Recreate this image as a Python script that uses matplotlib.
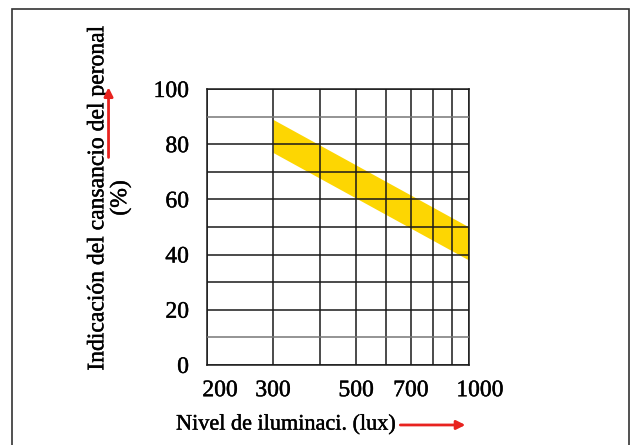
import numpy as np
import matplotlib.pyplot as plt
import matplotlib.patheffects as pe
from matplotlib.patches import Rectangle, FancyArrowPatch
from matplotlib.transforms import ScaledTranslation

plt.rcParams['font.family'] = ['Liberation Serif', 'DejaVu Serif']

# Datos
lux = [300, 1000]
cansancio_sup = [89, 50]
cansancio_inf = [77, 38]

x_ticks = [200, 300, 500, 700, 1000]
x_grid = [200, 300, 400, 500, 600, 700, 800, 900, 1000]
y_ticks = [0, 20, 40, 60, 80, 100]
y_grid = list(range(0, 101, 10))

# trazo algo mas grueso, como en la imagen original
grueso = [pe.withStroke(linewidth=0.3, foreground='black')]

fig = plt.figure(figsize=(6.31, 4.45), dpi=100)
ax = fig.add_axes([0.328, 0.180, 0.415, 0.620])

# banda amarilla (recta en escala logaritmica)
xs = np.geomspace(lux[0], lux[1], 50)
lx = np.log(xs / lux[0]) / np.log(lux[1] / lux[0])
sup = cansancio_sup[0] + (cansancio_sup[1] - cansancio_sup[0]) * lx
inf = cansancio_inf[0] + (cansancio_inf[1] - cansancio_inf[0]) * lx
ax.fill_between(xs, inf, sup, color='#FDD602', lw=0, zorder=1)

ax.set_xscale('log')
ax.set_xlim(200, 1000)
ax.set_ylim(0, 100)

for g in x_grid:
    ax.axvline(g, color='#1a1a1a', lw=1.1, zorder=3)
for g in y_grid:
    c = '#777777' if g in (10, 90) else '#1a1a1a'
    ax.axhline(g, color=c, lw=1.1, zorder=3)

ax.set_xticks(x_ticks)
ax.set_xticklabels([str(t) for t in x_ticks])
ax.xaxis.set_minor_locator(plt.NullLocator())
ax.set_yticks(y_ticks)
ax.tick_params(axis='both', length=0, labelsize=17)
ax.tick_params(axis='y', pad=13)
ax.tick_params(axis='x', pad=11)
for s in ax.spines.values():
    s.set_color('#1a1a1a')
    s.set_linewidth(1.1)

# los rotulos extremos del eje x estan algo desplazados a la derecha
labs = ax.get_xticklabels()
for i, dx in [(0, 13), (len(labs) - 1, 11)]:
    labs[i].set_transform(labs[i].get_transform() +
                          ScaledTranslation(dx / 100, 0, fig.dpi_scale_trans))
for t in ax.get_xticklabels() + ax.get_yticklabels():
    t.set_path_effects(grueso)

fig.text(0.173, 0.555, 'Indicación del cansancio del peronal\n(%)',
         rotation=90, ha='center', va='center', fontsize=17, linespacing=1.1,
         path_effects=grueso)
fig.text(0.279, 0.045, 'Nivel de iluminaci. (lux)', ha='left', va='center',
         fontsize=16, path_effects=grueso)

# flechas rojas, por encima del texto
for ini, fin in [((0.172, 0.64), (0.172, 0.81)),
                 ((0.630, 0.045), (0.742, 0.045))]:
    fig.add_artist(FancyArrowPatch(ini, fin, transform=fig.transFigure,
                                   arrowstyle='-|>', color='#E8231F', lw=2,
                                   mutation_scale=13, zorder=5))

# marco exterior
fig.add_artist(Rectangle((12 / 631, -0.05), 617 / 631, 1 - 9 / 445 + 0.05,
                         transform=fig.transFigure, fill=False,
                         edgecolor='#333333', lw=1.2))

fig.savefig('out.png', dpi=100)
